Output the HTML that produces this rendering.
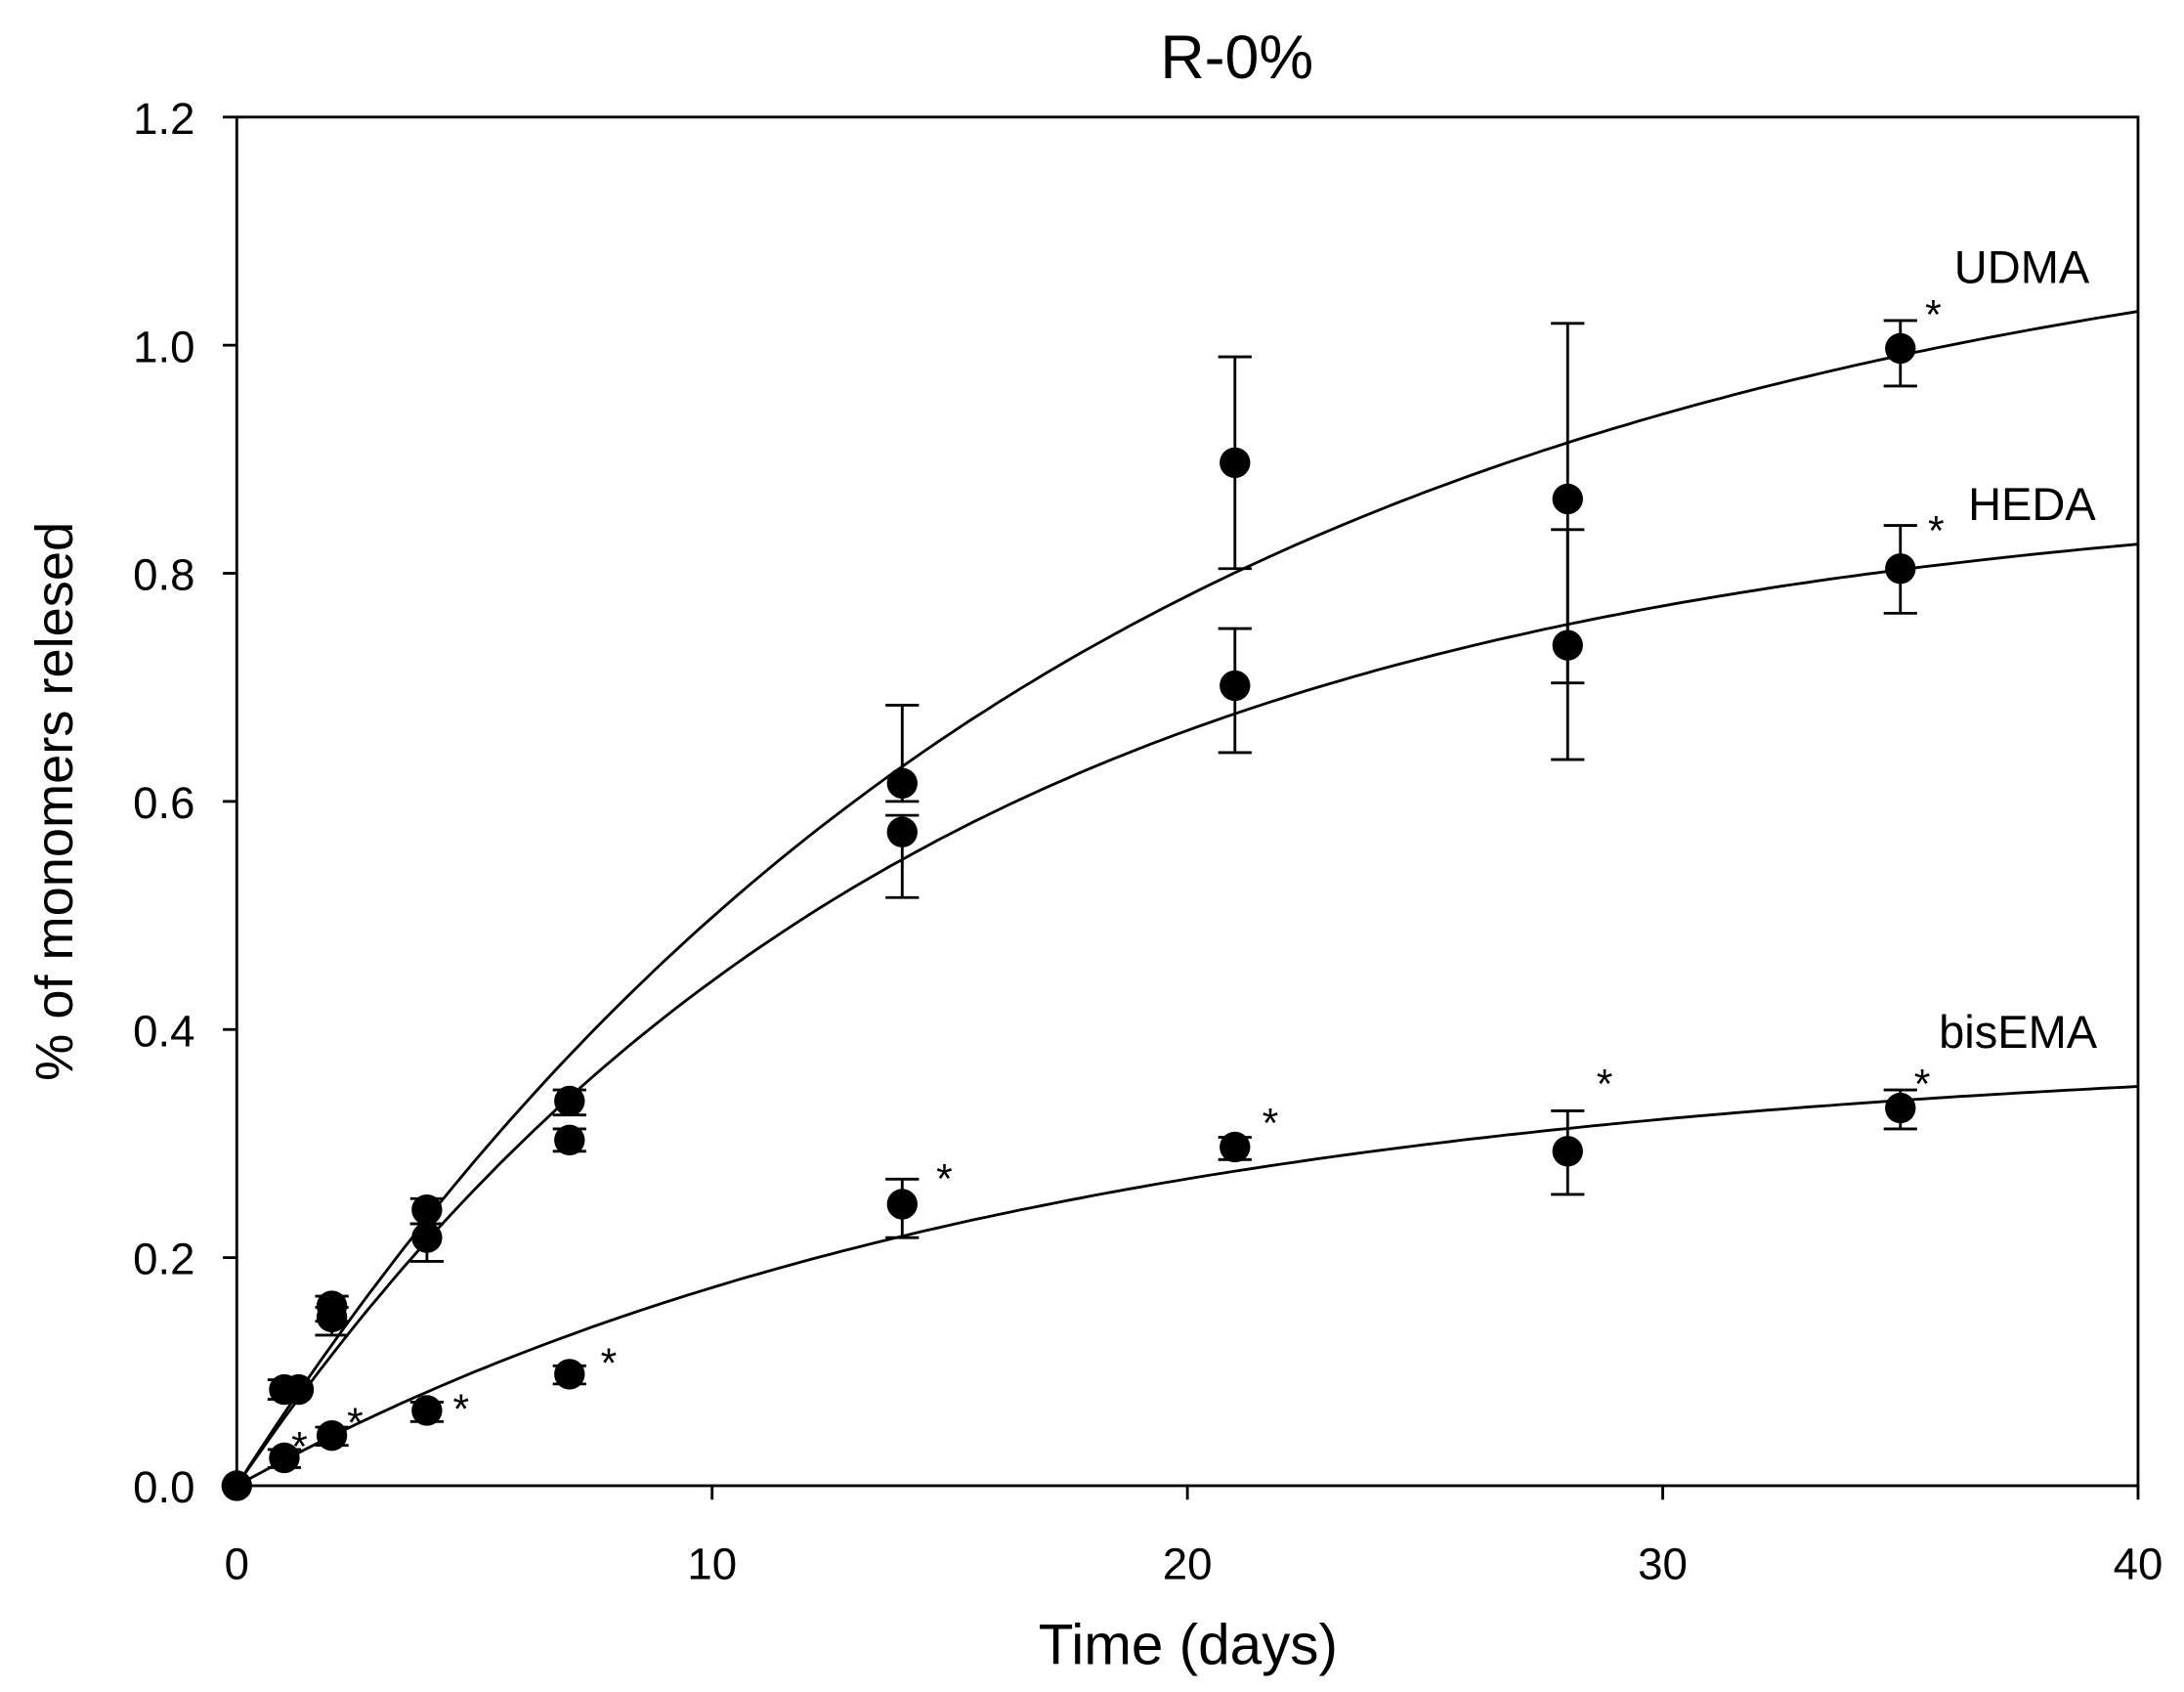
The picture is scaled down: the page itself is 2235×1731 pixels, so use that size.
<!DOCTYPE html>
<html><head><meta charset="utf-8"><style>
html,body{margin:0;padding:0;background:#fff}
svg{display:block}
text{font-family:"Liberation Sans",Arial,sans-serif;fill:#000}
</style></head><body>
<svg id="s" width="2235" height="1731" viewBox="0 0 1568 1214" preserveAspectRatio="none" xmlns="http://www.w3.org/2000/svg">
<rect x="170" y="84" width="1365" height="982" fill="none" stroke="#000" stroke-width="2"/>
<text x="888" y="56" font-size="44" text-anchor="middle">R-0%</text>
<text x="853" y="1194" font-size="41" text-anchor="middle">Time (days)</text>
<text transform="translate(52,575) rotate(-90)" font-size="38" text-anchor="middle">% of monomers relesed</text>
<text x="1403" y="203" font-size="33">UDMA</text>
<text x="1413" y="373" font-size="33">HEDA</text>
<text x="1392" y="752" font-size="33">bisEMA</text>
<g id="g"></g>
</svg>
<script>
var g=document.getElementById('g'),NS='http://www.w3.org/2000/svg';
function X(t){return 170+t*34.125}function Y(v){return 1066-v*818.33}
function el(n,a){var e=document.createElementNS(NS,n);for(var k in a)e.setAttribute(k,a[k]);g.appendChild(e);return e}
function tx(x,y,s,sz,anc){var e=el('text',{x:x,y:y,'font-size':sz,'text-anchor':anc||'start'});e.textContent=s}
[0,10,20,30,40].forEach(function(t){el('line',{x1:X(t),x2:X(t),y1:1066,y2:1076,stroke:'#000','stroke-width':2});tx(X(t),1133,t,32,'middle')});
for(var i=0;i<=6;i++){var v=i*0.2;el('line',{x1:160,x2:170,y1:Y(v),y2:Y(v),stroke:'#000','stroke-width':2});tx(140,Y(v)+12,v.toFixed(1),32,'end')}
[[1.147,0.057],[0.879,0.07],[0.385,0.06]].forEach(function(c){var d='';for(var t=0;t<=40;t+=0.25){d+=(t?'L':'M')+X(t).toFixed(1)+' '+Y(c[0]*(1-Math.exp(-c[1]*t))).toFixed(1)}el('path',{d:d,fill:'none',stroke:'#000','stroke-width':2})});
var eb=[[1,997,990,1004],[2,937,930,948],[2,945,938,958],[4,868,860,878],[4,888,878,905],[7,790,782,800],[7,818,810,826],
[14,562,506,575],[14,597,585,644],[21,332,256,408],[21,492,451,540],[28,358,232,490],[28,463,380,545],[35,250,230,277],[35,408,377,440],
[1,1046,1040,1053],[2,1030,1024,1037],[4,1012,1006,1020],[7,986,980,993],[14,864,846,888],[21,823,816,832],[28,826,797,857],[35,795,782,810]];
eb.forEach(function(e){var x=X(e[0]);el('line',{x1:x,x2:x,y1:e[2],y2:e[3],stroke:'#000','stroke-width':2});
el('line',{x1:x-12,x2:x+12,y1:e[2],y2:e[2],stroke:'#000','stroke-width':2});el('line',{x1:x-12,x2:x+12,y1:e[3],y2:e[3],stroke:'#000','stroke-width':2});
el('circle',{cx:x,cy:e[1],r:11,fill:'#000'})});
el('circle',{cx:X(0),cy:1066,r:11,fill:'#000'});el('circle',{cx:X(1.3),cy:997,r:11,fill:'#000'});
[[215,1030],[255,1013],[331,1003],[437,970],[678,838],[912,798],[1152,770],[1380,770],[1388,218],[1390,373]].forEach(function(a){tx(a[0],a[1]+18,'*',30,'middle')});
</script>
</body></html>
